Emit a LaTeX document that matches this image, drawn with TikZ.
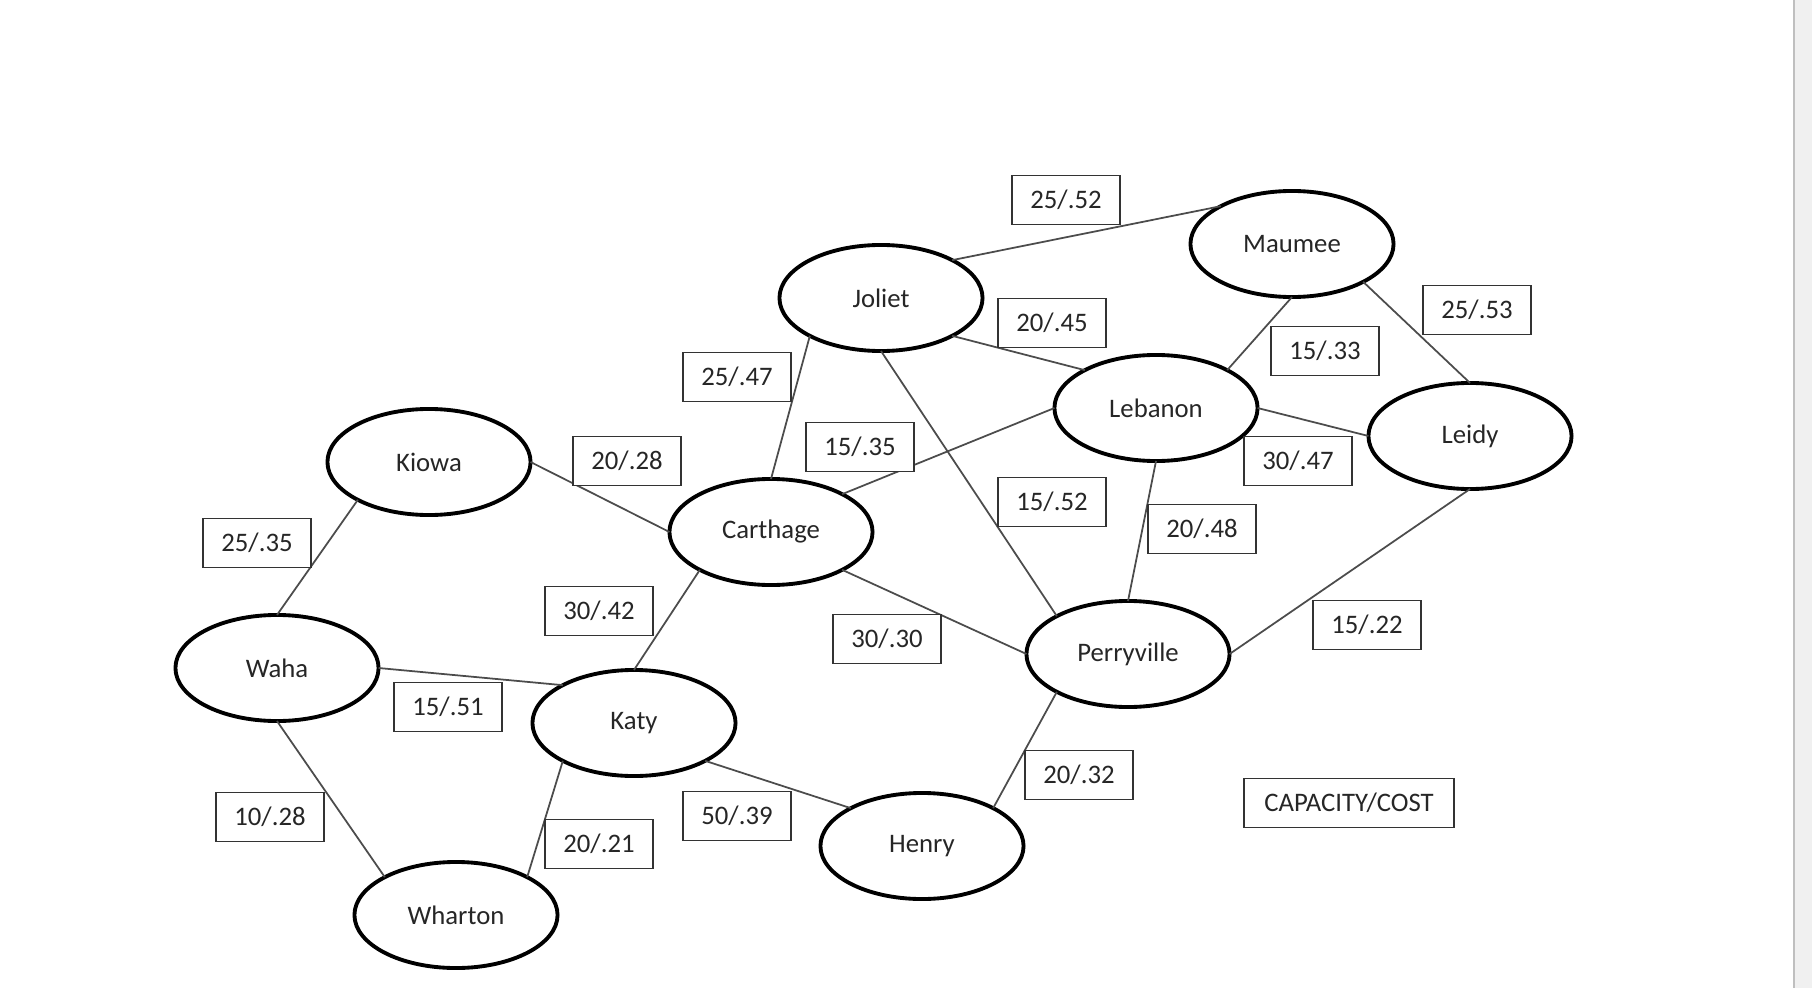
\documentclass[tikz,border=0pt]{standalone}
\usepackage{fontspec}
\setmainfont{Carlito}
\usetikzlibrary{shapes.geometric}
\tikzset{
  town/.style={draw, ellipse, line width=1.1pt, minimum width=2.03cm, minimum height=1.06cm, inner sep=0pt, outer sep=0pt, text=black!85, font=\fontsize{7.6pt}{9pt}\selectfont},
  costbox/.style={draw=black!80, fill=white, line width=0.55pt, minimum width=1.08cm, minimum height=0.49cm, inner sep=1pt, text=black!85, font=\fontsize{7.6pt}{9pt}\selectfont},
  link/.style={draw=black!70, line width=0.5pt},
}
\begin{document}
\begin{tikzpicture}[x=0.01cm, y=-0.01cm]
  \useasboundingbox (0,0) rectangle (1812,988);
  % page edge on the right
  \fill[black!6] (1794,0) rectangle (1812,988);
  \draw[black!25, line width=0.6pt] (1794,0) -- (1794,988);

  % towns
  \node[town] (joliet) at (881,298) {Joliet};
  \node[town] (maumee) at (1292,244) {Maumee};
  \node[town] (lebanon) at (1156,408) {Lebanon};
  \node[town] (leidy) at (1470,436) {Leidy};
  \node[town] (kiowa) at (429,462) {Kiowa};
  \node[town] (carthage) at (771,532) {Carthage};
  \node[town] (waha) at (277,668) {Waha};
  \node[town] (katy) at (634,723) {Katy};
  \node[town] (perryville) at (1128,654) {Perryville};
  \node[town] (henry) at (922,846) {Henry};
  \node[town] (wharton) at (456,915) {Wharton};

  % pipelines
  \draw[link] (joliet.28) -- (maumee.152);
  \draw[link] (joliet.-28) -- (lebanon.152);
  \draw[link] (joliet.208) -- (carthage.90);
  \draw[link] (joliet.270) -- (perryville.152);
  \draw[link] (maumee.270) -- (lebanon.28);
  \draw[link] (maumee.-28) -- (leidy.90);
  \draw[link] (lebanon.0) -- (leidy.180);
  \draw[link] (lebanon.180) -- (carthage.28);
  \draw[link] (lebanon.270) -- (perryville.90);
  \draw[link] (leidy.270) -- (perryville.0);
  \draw[link] (kiowa.0) -- (carthage.180);
  \draw[link] (kiowa.208) -- (waha.90);
  \draw[link] (carthage.208) -- (katy.90);
  \draw[link] (carthage.-28) -- (perryville.180);
  \draw[link] (waha.0) -- (katy.152);
  \draw[link] (waha.270) -- (wharton.152);
  \draw[link] (katy.208) -- (wharton.28);
  \draw[link] (katy.-28) -- (henry.152);
  \draw[link] (henry.28) -- (perryville.208);

  % capacity/cost labels
  \node[costbox] (jm) at (1066,200) {25/.52};
  \node[costbox] (jl) at (1052,323) {20/.45};
  \node[costbox] (mle) at (1477,310) {25/.53};
  \node[costbox] (mlb) at (1325,351) {15/.33};
  \node[costbox] (jc) at (737,377) {25/.47};
  \node[costbox] (lc) at (860,447) {15/.35};
  \node[costbox] (kc) at (627,461) {20/.28};
  \node[costbox] (lel) at (1298,461) {30/.47};
  \node[costbox] (jp) at (1052,502) {15/.52};
  \node[costbox] (lp) at (1202,529) {20/.48};
  \node[costbox] (kw) at (257,543) {25/.35};
  \node[costbox] (ck) at (599,611) {30/.42};
  \node[costbox] (cp) at (887,639) {30/.30};
  \node[costbox] (lep) at (1367,625) {15/.22};
  \node[costbox] (wk) at (448,707) {15/.51};
  \node[costbox] (hp) at (1079,775) {20/.32};
  \node[costbox] (ww) at (270,817) {10/.28};
  \node[costbox] (kh) at (737,816) {50/.39};
  \node[costbox] (kwh) at (599,844) {20/.21};
  \node[costbox, minimum width=2.09cm] (legend) at (1349,803) {CAPACITY/COST};
\end{tikzpicture}
\end{document}
